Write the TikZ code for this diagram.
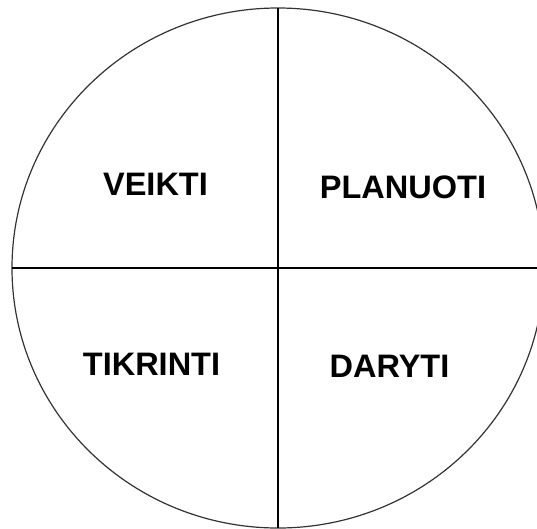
\documentclass[tikz,border=0pt]{standalone}
\usepackage{fontspec}
\setmainfont{Liberation Sans}
\begin{document}
\begin{tikzpicture}[x=1pt,y=-1pt,
  lbl/.style={anchor=base,inner sep=0pt,font=\fontsize{32.5}{32.5}\selectfont\bfseries},
  ln/.style={line width=1.2pt,black}]
\useasboundingbox (0,0) rectangle (537,528);
\clip (0,0) rectangle (537,528);
\fill[white] (0,0) rectangle (537,528);
\coordinate (c) at (278,268);
\draw[ln,black!80] (c) ellipse [x radius=266, y radius=260];
\coordinate (top) at (278,8);
\coordinate (bot) at (278,528);
\coordinate (lft) at (12,268);
\coordinate (rgt) at (540,268);
\draw[ln] (top) -- (bot);
\draw[ln] (lft) -- (rgt);
\node[lbl] (veikti) at (155.5,195) {VEIKTI};
\node[lbl] (planuoti) at (403,198) {PLANUOTI};
\node[lbl] (tikrinti) at (151.5,375.5) {TIKRINTI};
\node[lbl] (daryti) at (389.5,377.5) {DARYTI};
\end{tikzpicture}
\end{document}
